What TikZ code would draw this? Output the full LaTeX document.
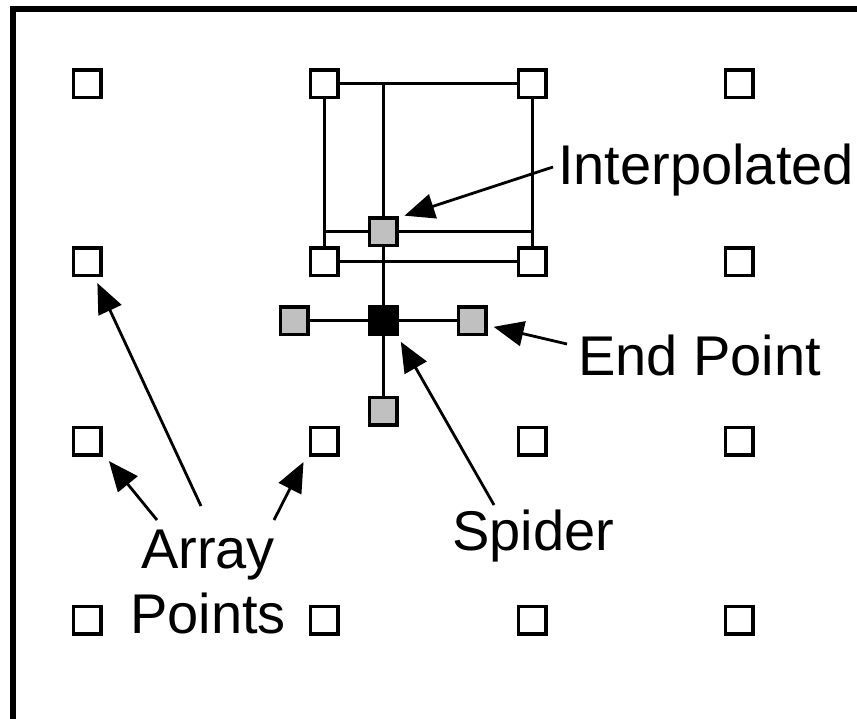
\documentclass[tikz,border=0pt]{standalone}
\usepackage{fontspec}
\setmainfont{Liberation Sans}
\usetikzlibrary{arrows.meta,backgrounds,calc}
\definecolor{ptgray}{HTML}{C0C0C0}
\tikzset{
  pt/.style={draw=black, line width=3.3pt, minimum size=27.7pt, inner sep=0pt, outer sep=0pt, fill=white},
  ptgrey/.style={pt, fill=ptgray},
  ptblack/.style={pt, fill=black},
  link/.style={line width=3pt},
  callout/.style={line width=2.8pt, -{Triangle[length=30pt,width=25pt]}, shorten >=8pt},
  lbl/.style={inner sep=0pt, font=\fontsize{56}{65}\selectfont}
}
\begin{document}
\begin{tikzpicture}[x=1pt,y=-1pt]
\useasboundingbox (0,0) rectangle (857,719);
% frame edges
\draw[line width=6pt] (13,719) -- (13,9) -- (857,9);

% regular array of points
\foreach \c/\x in {1/87,2/324,3/532,4/739}{
  \foreach \r/\y in {1/84,2/262,3/441,4/620}{
    \node[pt] (a\r\c) at (\x,\y) {};
  }
}

% interpolated point and spider
\node[ptgrey] (gi) at (383,232) {};
\node[ptblack] (sp) at (383,321) {};
\node[ptgrey] (gl) at (294,321) {};
\node[ptgrey] (gr) at (472,321) {};
\node[ptgrey] (gb) at (383,411) {};

\begin{scope}[on background layer]
  \draw[link] (a12) -- (a13);
  \draw[link] (a22) -- (a23);
  \draw[link] (a12) -- (a22);
  \draw[link] (a13) -- (a23);
  \draw[link] (a12 |- gi) -- (a13 |- gi);
  \draw[link] (gi |- a12) -- (gb);
  \draw[link] (gl) -- (gr);
\end{scope}

% labels
\node[lbl, anchor=base west] (tint) at (558,185) {Interpolated};
\node[lbl, anchor=base west] (tend) at (578,375) {End Point};
\node[lbl, anchor=base west] (tspi) at (452,550) {Spider};
\node[lbl, anchor=base] (tarr) at (208,568) {Array};
\node[lbl, anchor=base] (tpts) at (208,633) {Points};

% arrow tails
\coordinate (cint) at (553,167);
\coordinate (cend) at (567,344);
\coordinate (cspi) at (494,505);
\coordinate (carl) at (157,520);
\coordinate (carm) at (201,506);
\coordinate (carr) at (274,520);

% callout arrows
\draw[callout] (cint) -- (gi.north east);
\draw[callout] (cend) -- ($(gr.east)+(0,4)$);
\draw[callout] (cspi) -- (sp.south east);
\draw[callout] (carm) -- ($(a21.south)+(7,0)$);
\draw[callout] (carl) -- ($(a31.south east)+(3,0)$);
\draw[callout] (carr) -- ($(a32.south west)+(-3,0)$);
\end{tikzpicture}
\end{document}
